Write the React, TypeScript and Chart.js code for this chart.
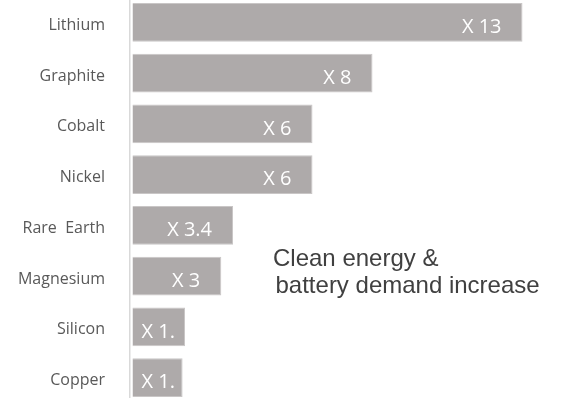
import React, { useEffect, useRef } from "react";
import { Chart, registerables } from "chart.js";

Chart.register(...registerables);

const categories = ["Lithium", "Graphite", "Cobalt", "Nickel", "Rare  Earth", "Magnesium", "Silicon", "Copper"];
const values = [13, 8, 6, 6, 3.35, 2.96, 1.75, 1.67];
const valueLabels = ["X 13", "X 8", "X 6", "X 6", "X 3.4", "X 3", "X 1.", "X 1."];
const noteLines = ["Clean energy &", "battery demand increase"];

const W = 564;
const H = 406;
const TOP = -3;

const barLabelPlugin = {
  id: "barLabels",
  afterDatasetsDraw(chart: any) {
    const ctx = chart.ctx;
    const meta = chart.getDatasetMeta(0);
    ctx.save();
    ctx.font = "20px 'Open Sans'";
    ctx.fillStyle = "#ffffff";
    ctx.textBaseline = "middle";
    ctx.textAlign = "left";
    meta.data.forEach((bar: any, i: number) => {
      const text = valueLabels[i];
      const w = ctx.measureText(text).width;
      const left = Math.max(bar.x - 21 - w, bar.base + 9);
      ctx.fillText(text, left, bar.y + 5);
    });
    ctx.restore();
  },
};

const notePlugin = {
  id: "note",
  afterDraw(chart: any) {
    const ctx = chart.ctx;
    ctx.save();
    ctx.font = "24px 'Liberation Sans'";
    ctx.fillStyle = "#404040";
    ctx.textBaseline = "alphabetic";
    ctx.textAlign = "left";
    ctx.fillText(noteLines[0], 273, 266 - TOP);
    ctx.fillText(noteLines[1], 275.5, 293 - TOP);
    ctx.restore();
  },
};

export default function App() {
  const ref = useRef<HTMLCanvasElement | null>(null);
  useEffect(() => {
    if (!ref.current) return;
    const pxPerUnit = 30;
    const areaW = W - 130;
    const xmin = -2.5 / pxPerUnit;
    const xmax = xmin + areaW / pxPerUnit;
    const chart = new Chart(ref.current, {
      type: "bar",
      data: {
        labels: categories,
        datasets: [
          {
            data: values,
            backgroundColor: "#aeaaaa",
            borderColor: "#c9c6c6",
            borderWidth: 1,
            borderSkipped: "left",
            categoryPercentage: 1,
            barPercentage: 0.762,
          },
        ],
      },
      options: {
        indexAxis: "y",
        responsive: false,
        animation: false,
        devicePixelRatio: 1,
        layout: { padding: 0 },
        plugins: { legend: { display: false }, tooltip: { enabled: false } },
        scales: {
          x: { display: false, min: xmin, max: xmax },
          y: {
            afterFit: (s: any) => {
              s.width = 130;
              s.paddingTop = 0;
              s.paddingBottom = 0;
            },
            grid: { display: false, drawTicks: false },
            border: { display: true, color: "#d9d9d9", width: 1.5 },
            ticks: {
              padding: 25,
              labelOffset: 3,
              color: "#595959",
              font: { family: "'Open Sans'", size: 16 },
            },
          },
        },
      },
      plugins: [barLabelPlugin, notePlugin],
    });
    return () => chart.destroy();
  }, []);
  return (
    <div style={{ position: "fixed", left: 0, top: 0, width: W, height: 398, overflow: "hidden", background: "#fff" }}>
      <canvas
        ref={ref}
        width={W}
        height={H}
        style={{ position: "absolute", left: 0, top: TOP, width: W, height: H }}
      />
    </div>
  );
}
